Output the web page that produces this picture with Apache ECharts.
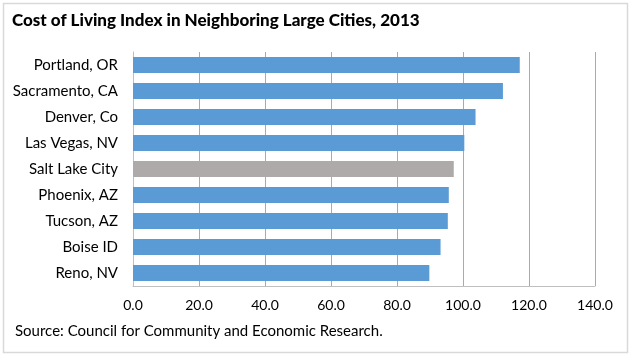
<!DOCTYPE html>
<html><head><meta charset="utf-8">
<script src="https://cdn.jsdelivr.net/npm/echarts@6/dist/echarts.min.js"></script>
<style>html,body{margin:0;padding:0;background:#fff}#c{width:632px;height:357px}</style>
</head><body><div id="c"></div>
<script>
const cities = ["Portland, OR","Sacramento, CA","Denver, Co","Las Vegas, NV","Salt Lake City","Phoenix, AZ","Tucson, AZ","Boise ID","Reno, NV"];
const values = [117.2, 112.1, 103.8, 100.4, 97.2, 95.7, 95.4, 93.2, 89.8];
const highlight = "Salt Lake City";
const titleText = "Cost of Living Index in Neighboring Large Cities, 2013";
const sourceText = "Source: Council for Community and Economic Research.";

const chart = echarts.init(document.getElementById('c'));
const font = 'Lato, "Open Sans", sans-serif';
chart.setOption({
  animation: false,
  textStyle: {fontFamily: font},
  title: {text: titleText, left: 7, top: 7,
    textStyle: {fontFamily: font, fontWeight: 900, fontSize: 17, color: '#000'}},
  graphic: [
    {type: 'rect', shape: {x: 3.5, y: 3.5, width: 624, height: 349}, style: {fill: 'none', stroke: '#d9d9d9', lineWidth: 1.5}, z: -1},
    {type: 'text', left: 15, top: 324, style: {text: sourceText, font: '15px ' + font, fill: '#000'}}
  ],
  grid: {left: 133, top: 52, width: 462, height: 234, containLabel: false},
  xAxis: {type: 'value', min: 0, max: 140, interval: 20,
    axisLabel: {formatter: v => v.toFixed(1), fontSize: 14, color: '#000', margin: 12, fontFamily: font},
    axisLine: {show: true, lineStyle: {color: '#bfbfbf'}},
    axisTick: {show: false},
    splitLine: {show: true, lineStyle: {color: '#aaaaaa', width: 1}}},
  yAxis: {type: 'category', data: cities, inverse: true,
    axisLabel: {fontSize: 15, color: '#000', margin: 15, fontFamily: font},
    axisLine: {show: true, lineStyle: {color: '#bfbfbf'}},
    axisTick: {show: false}},
  series: [{type: 'bar', barCategoryGap: '38%',
    data: values.map((v, i) => ({value: v, itemStyle: {color: cities[i] === highlight ? '#aeaaaa' : '#5b9bd5'}}))}]
});
</script></body></html>
